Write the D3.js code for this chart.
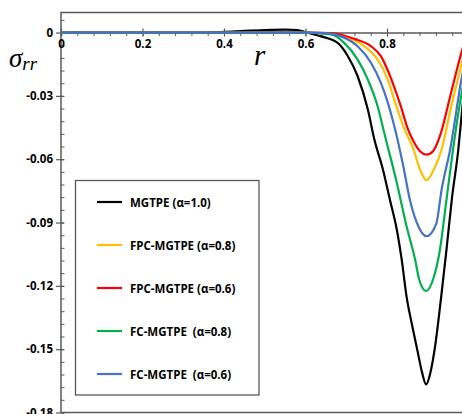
<!DOCTYPE html>
<html>
<head>
<meta charset="utf-8">
<script src="https://cdn.jsdelivr.net/npm/d3@7/dist/d3.min.js"></script>
<style>
  html, body { margin: 0; padding: 0; background: #fff; }
  svg { display: block; }
</style>
</head>
<body>
<svg id="chart" width="462" height="414"></svg>
<script>
// Radial stress sigma_rr versus r for five material models
const seriesNames = [
  "MGTPE (\u03b1=1.0)",
  "FPC-MGTPE (\u03b1=0.8)",
  "FPC-MGTPE (\u03b1=0.6)",
  "FC-MGTPE  (\u03b1=0.8)",
  "FC-MGTPE  (\u03b1=0.6)"
];
const seriesColors = ["#000000", "#FFC000", "#FF0000", "#00B050", "#4472C4"];

const mgtpeR = [0, 0.2, 0.35, 0.4, 0.45, 0.5, 0.55, 0.58, 0.6, 0.638, 0.679, 0.704, 0.728, 0.753, 0.769, 0.79, 0.807, 0.824, 0.836, 0.848, 0.862, 0.875, 0.886, 0.896, 0.906, 0.918, 0.933, 0.946, 0.959, 0.975, 0.984, 0.992];
const mgtpeV = [0, 0, 0, 0.0003, 0.0008, 0.0012, 0.0014, 0.0012, 0.0002, -0.0018, -0.0049, -0.0112, -0.0207, -0.0365, -0.0507, -0.0649, -0.0791, -0.0933, -0.1075, -0.1251, -0.1390, -0.1510, -0.1610, -0.1667, -0.1615, -0.1487, -0.1251, -0.1028, -0.0791, -0.0554, -0.0374, -0.022];

const fpc08R = [0, 0.3, 0.6, 0.66, 0.704, 0.744, 0.777, 0.802, 0.820, 0.840, 0.865, 0.881, 0.897, 0.915, 0.934, 0.955, 0.984, 0.992];
const fpc08V = [0, 0, 0, -0.0004, -0.0025, -0.0065, -0.0128, -0.0223, -0.0332, -0.0444, -0.0554, -0.0649, -0.0700, -0.0649, -0.0554, -0.0374, -0.0142, -0.008];

const fpc06R = [0, 0.3, 0.6, 0.663, 0.720, 0.761, 0.785, 0.802, 0.818, 0.834, 0.850, 0.865, 0.881, 0.897, 0.913, 0.930, 0.955, 0.983, 0.992];
const fpc06V = [0, 0, 0, -0.0002, -0.0030, -0.0065, -0.0112, -0.0180, -0.0260, -0.0350, -0.0450, -0.0515, -0.0562, -0.0578, -0.0562, -0.0490, -0.0303, -0.0092, -0.0035];

const fc08R = [0, 0.3, 0.6, 0.663, 0.695, 0.728, 0.753, 0.777, 0.793, 0.824, 0.848, 0.869, 0.879, 0.896, 0.913, 0.930, 0.946, 0.962, 0.984, 0.991];
const fc08V = [0, 0, 0, -0.0009, -0.0049, -0.0128, -0.0223, -0.0349, -0.0474, -0.0711, -0.0918, -0.1075, -0.1170, -0.1225, -0.1170, -0.1028, -0.0791, -0.0554, -0.0279, -0.0213];

const fc06R = [0, 0.3, 0.6, 0.65, 0.687, 0.728, 0.761, 0.785, 0.802, 0.818, 0.840, 0.856, 0.873, 0.897, 0.921, 0.934, 0.955, 0.984, 0.991];
const fc06V = [0, 0, 0, -0.0003, -0.0018, -0.0065, -0.0144, -0.0238, -0.0332, -0.0444, -0.0633, -0.0791, -0.0900, -0.0965, -0.0905, -0.0744, -0.0554, -0.0208, -0.0142];

const seriesR = [mgtpeR, fpc08R, fpc06R, fc08R, fc06R];
const seriesV = [mgtpeV, fpc08V, fpc06V, fc08V, fc06V];

const xTickValues = [0, 0.2, 0.4, 0.6, 0.8, 1.0];
const xTickLabels = ["0", "0.2", "0.4", "0.6", "0.8", ""];
const yTickValues = [0, -0.03, -0.06, -0.09, -0.12, -0.15, -0.18];
const yTickLabels = ["0", "-0.03", "-0.06", "-0.09", "-0.12", "-0.15", "-0.18"];

const svg = d3.select("#chart");
const plotLeft = 61, plotRight = 468.5, plotTop = 12.5, plotBottom = 412.5;

const x = d3.scaleLinear().domain([0, 1]).range([plotLeft, plotRight]);
const y = d3.scaleLinear().domain([-0.18, 0.0095]).range([plotBottom, plotTop]);

const axisColor = "#595959";
const tickFont = "'Open Sans', 'Liberation Sans', sans-serif";

// plot frame
svg.append("rect")
  .attr("x", plotLeft).attr("y", plotTop)
  .attr("width", plotRight - plotLeft).attr("height", plotBottom - plotTop)
  .attr("fill", "none").attr("stroke", axisColor).attr("stroke-width", 1.5);

// clip for the curves
svg.append("defs").append("clipPath").attr("id", "plotClip")
  .append("rect").attr("x", plotLeft).attr("y", plotTop)
  .attr("width", plotRight - plotLeft).attr("height", plotBottom - plotTop);

// y axis: major ticks cross the line, minor ticks point inward
const yAxisG = svg.append("g").attr("transform", `translate(${plotLeft},0)`);
const yMinor = d3.range(-0.18, 0.0095, 0.006);
yAxisG.call(d3.axisRight(y).tickValues(yMinor).tickSize(3.5).tickFormat(""))
  .call(g => g.select(".domain").remove())
  .call(g => g.selectAll("line").attr("stroke", axisColor).attr("stroke-width", 1));
const yMajorG = svg.append("g").attr("transform", `translate(${plotLeft + 3},0)`);
yMajorG.call(d3.axisLeft(y).tickValues(yTickValues).tickSize(8)
    .tickFormat((d, i) => yTickLabels[i]).tickPadding(3))
  .call(g => g.select(".domain").remove())
  .call(g => g.selectAll("line").attr("stroke", axisColor).attr("stroke-width", 1.2))
  .call(g => g.selectAll("text")
    .attr("fill", "#000").attr("font-family", tickFont)
    .attr("font-weight", "bold").attr("font-size", 11.5));

// x axis along v = 0
const xAxisG = svg.append("g").attr("transform", `translate(0,${y(0)})`);
xAxisG.call(d3.axisBottom(x).tickValues(d3.range(0, 1.0001, 0.04)).tickSize(3.5).tickFormat(""))
  .call(g => g.select(".domain").attr("stroke", axisColor).attr("stroke-width", 1.5))
  .call(g => g.selectAll("line").attr("stroke", axisColor).attr("stroke-width", 1));
const xMajorG = svg.append("g").attr("transform", `translate(0,${y(0) - 4})`);
xMajorG.call(d3.axisBottom(x).tickValues(xTickValues).tickSize(8)
    .tickFormat((d, i) => xTickLabels[i]).tickPadding(3))
  .call(g => g.select(".domain").remove())
  .call(g => g.selectAll("line").attr("stroke", axisColor).attr("stroke-width", 1.2))
  .call(g => g.selectAll("text")
    .attr("fill", "#000").attr("font-family", tickFont)
    .attr("font-weight", "bold").attr("font-size", 11.5));

// curves
const line = d3.line()
  .x(d => x(d[0])).y(d => y(d[1]))
  .curve(d3.curveMonotoneX);

const curves = svg.append("g").attr("clip-path", "url(#plotClip)");
seriesR.forEach((rs, i) => {
  const pts = rs.map((r, j) => [r, seriesV[i][j]]);
  curves.append("path")
    .datum(pts)
    .attr("d", line)
    .attr("fill", "none")
    .attr("stroke", seriesColors[i])
    .attr("stroke-width", 2.2)
    .attr("stroke-linejoin", "round");
});

// axis titles
const sig = svg.append("text")
  .attr("x", 9).attr("y", 67)
  .attr("font-family", "'Liberation Serif', 'DejaVu Serif', serif")
  .attr("font-style", "italic").attr("fill", "#000");
sig.append("tspan").attr("font-size", 27).text("\u03c3");
sig.append("tspan").attr("font-size", 19).attr("dy", 3).text("rr");

svg.append("text")
  .attr("x", 254).attr("y", 65)
  .attr("font-family", "'Liberation Serif', 'DejaVu Serif', serif")
  .attr("font-style", "italic").attr("font-size", 29).attr("fill", "#000")
  .text("r");

// legend
const legend = svg.append("g");
legend.append("rect")
  .attr("x", 75.5).attr("y", 180.5).attr("width", 183.5).attr("height", 214.5)
  .attr("fill", "#fff").attr("stroke", axisColor).attr("stroke-width", 1.3);
seriesNames.forEach((name, i) => {
  const cy = 202 + i * 43;
  legend.append("line")
    .attr("x1", 97).attr("x2", 122).attr("y1", cy).attr("y2", cy)
    .attr("stroke", seriesColors[i]).attr("stroke-width", 2.2);
  legend.append("text")
    .attr("x", 130).attr("y", cy + 4.5)
    .attr("font-family", tickFont).attr("font-weight", "bold")
    .attr("font-size", 11.5).attr("fill", "#000")
    .attr("xml:space", "preserve")
    .style("white-space", "pre")
    .text(name);
});
</script>
</body>
</html>
